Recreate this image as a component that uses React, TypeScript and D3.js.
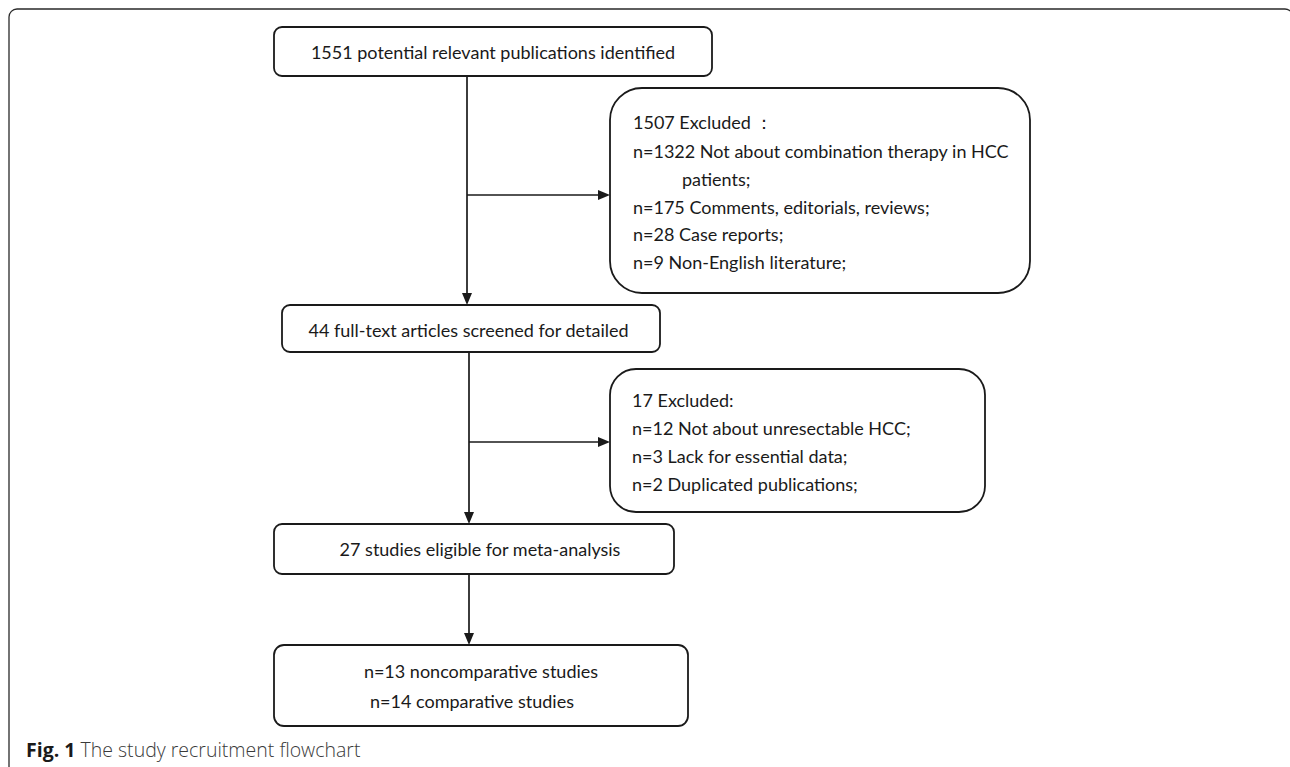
import React from "react";
import * as d3 from "d3";

// ---- Data (text content of the flowchart) ----
const identifiedLines = ["1551 potential relevant publications identified"];
const excluded1Lines = [
  "1507 Excluded ：",
  "n=1322 Not about combination therapy in HCC",
  "patients;",
  "n=175 Comments, editorials, reviews;",
  "n=28 Case reports;",
  "n=9 Non-English literature;",
];
const screenedLines = ["44 full-text articles screened for detailed"];
const excluded2Lines = [
  "17 Excluded:",
  "n=12 Not about unresectable HCC;",
  "n=3 Lack for essential data;",
  "n=2 Duplicated publications;",
];
const eligibleLines = ["27 studies eligible for meta-analysis"];
const finalLines = ["n=13 noncomparative studies", "n=14 comparative studies"];
const captionBold = "Fig. 1";
const captionText = " The study recruitment flowchart";

// ---- Layout ----
const W = 1290;
const H = 767;
const FONT = "Lato, 'Open Sans', sans-serif";
const FS = 18;
const INK = "#1a1a1a";

type Box = { x0: number; y0: number; x1: number; y1: number; r: number };
const B1: Box = { x0: 274, y0: 27, x1: 712, y1: 76, r: 8 };
const B2: Box = { x0: 610, y0: 88, x1: 1030, y1: 293, r: 32 };
const B3: Box = { x0: 282, y0: 305, x1: 660, y1: 352, r: 8 };
const B4: Box = { x0: 610, y0: 369, x1: 985, y1: 512, r: 26 };
const B5: Box = { x0: 274, y0: 524, x1: 674, y1: 574, r: 8 };
const B6: Box = { x0: 274, y0: 645, x1: 688, y1: 726, r: 10 };

function BoxRect({ b }: { b: Box }) {
  return (
    <rect
      x={b.x0}
      y={b.y0}
      width={b.x1 - b.x0}
      height={b.y1 - b.y0}
      rx={b.r}
      ry={b.r}
      fill="#fff"
      stroke={INK}
      strokeWidth={1.8}
    />
  );
}

function Arrow({ pts }: { pts: [number, number][] }) {
  const line = d3.line<[number, number]>();
  const [xa, ya] = pts[pts.length - 2];
  const [xb, yb] = pts[pts.length - 1];
  const ang = Math.atan2(yb - ya, xb - xa);
  const len = 12;
  const half = 5;
  const bx = xb - len * Math.cos(ang);
  const by = yb - len * Math.sin(ang);
  const head: [number, number][] = [
    [xb, yb],
    [bx + half * Math.sin(ang), by - half * Math.cos(ang)],
    [bx - half * Math.sin(ang), by + half * Math.cos(ang)],
  ];
  const shaft = pts.slice(0, -1).concat([[bx, by]]);
  return (
    <g>
      <path d={line(shaft) || ""} fill="none" stroke={INK} strokeWidth={1.7} />
      <path d={(line(head) || "") + "Z"} fill={INK} stroke="none" />
    </g>
  );
}

export default function App() {
  const base = FS * 0.36;
  const y2 = [123, 152, 180, 208, 235, 263];
  const x2 = [633, 633, 682, 633, 633, 633];
  const y4 = [401, 429, 457, 485];
  const yF = [672, 702];
  const xF = [481, 472];
  return (
    <svg
      width={W}
      height={H}
      viewBox={`0 0 ${W} ${H}`}
      style={{ position: "fixed", left: 0, top: 0, background: "#fff" }}
    >
      <rect x={0} y={0} width={W} height={H} fill="#fff" />
      {/* outer frame */}
      <rect
        x={9}
        y={9}
        width={1284}
        height={820}
        rx={8}
        ry={8}
        fill="none"
        stroke="#2a2a2a"
        strokeWidth={1.3}
      />

      {/* connectors */}
      <Arrow pts={[[467, B1.y1], [467, B3.y0]]} />
      <Arrow pts={[[467, 195], [B2.x0, 195]]} />
      <Arrow pts={[[469, B3.y1], [469, B5.y0]]} />
      <Arrow pts={[[469, 442], [B4.x0, 442]]} />
      <Arrow pts={[[469, B5.y1], [469, B6.y0]]} />

      {[B1, B2, B3, B4, B5, B6].map((b, i) => (
        <BoxRect key={i} b={b} />
      ))}

      <g fontFamily={FONT} fontSize={FS} fill={INK}>
        {identifiedLines.map((t, i) => (
          <text key={i} x={(B1.x0 + B1.x1) / 2} y={53 + base} textAnchor="middle">
            {t}
          </text>
        ))}
        {excluded1Lines.map((t, i) => (
          <text key={i} x={x2[i]} y={y2[i] + base}>
            {t}
          </text>
        ))}
        {screenedLines.map((t, i) => (
          <text key={i} x={468.5} y={331 + base} textAnchor="middle">
            {t}
          </text>
        ))}
        {excluded2Lines.map((t, i) => (
          <text key={i} x={632} y={y4[i] + base}>
            {t}
          </text>
        ))}
        {eligibleLines.map((t, i) => (
          <text key={i} x={480} y={550 + base} textAnchor="middle">
            {t}
          </text>
        ))}
        {finalLines.map((t, i) => (
          <text key={i} x={xF[i]} y={yF[i] + base} textAnchor="middle">
            {t}
          </text>
        ))}
      </g>

      <text x={26} y={757} fontFamily="'Open Sans', 'Noto Sans', sans-serif" fontSize={19.5}>
        <tspan fontWeight="bold" fill="#1a1a1a">
          {captionBold}
        </tspan>
        <tspan fill="#3a3a3a" fontWeight={300}>
          {captionText}
        </tspan>
      </text>
    </svg>
  );
}
